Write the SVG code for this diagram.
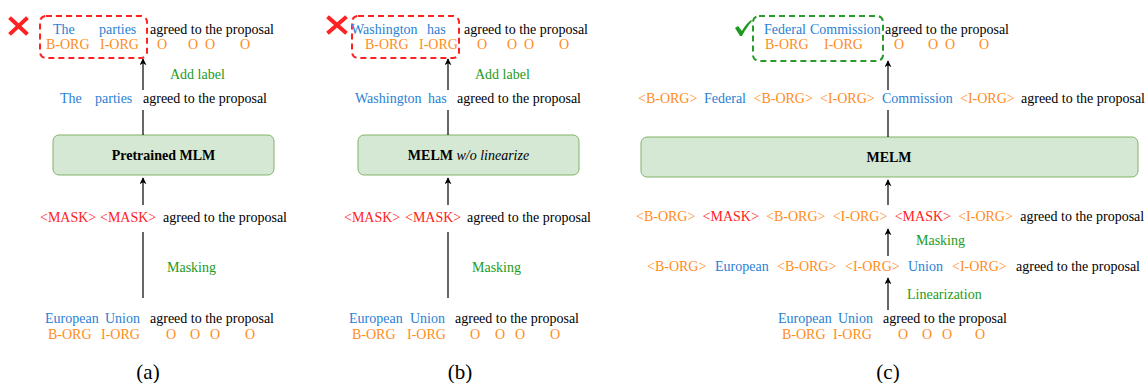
<svg xmlns="http://www.w3.org/2000/svg" width="1148" height="383" viewBox="0 0 1148 383">
  <defs>
    <marker id="arrowhead" viewBox="0 0 10 10" refX="9" refY="5" markerWidth="7" markerHeight="7" orient="auto" markerUnits="userSpaceOnUse">
      <path d="M0,0 L10,5 L0,10 L3,5 Z" fill="#000"/>
    </marker>
    <style>
      text { font-family: "Liberation Serif", "Times New Roman", serif; font-size: 14px; }
      .k { fill: #000; }
      .b { fill: #2a7fd4; }
      .o { fill: #ff8c1a; }
      .r { fill: #ff2222; }
      .g { fill: #1d9a1d; }
      .cap { font-size: 21px; fill: #000; text-anchor: middle; }
      .model { fill: #d5e8d4; stroke: #82b366; stroke-width: 1; }
      .mlabel { font-weight: bold; text-anchor: middle; fill: #000; }
      .wrong { fill: none; stroke: #ff2222; stroke-width: 2; stroke-dasharray: 6 4; }
      .right { fill: none; stroke: #2a9a2a; stroke-width: 2; stroke-dasharray: 6 4; }
      .edge { stroke: #000; stroke-width: 1.2; fill: none; }
      .arrow { marker-end: url(#arrowhead); }
    </style>
  </defs>

  <!-- Panel (a): pretrained masked LM -->
  <g id="a-output">
    <rect class="wrong" x="40" y="16" width="107" height="42" rx="6"/>
    <path d="M11,19 L26,33 M26,19 L11,33" stroke="#ff2222" stroke-width="4" stroke-linecap="square"/>
    <text x="53" y="34" class="b">The</text>
    <text x="99" y="34" class="b">parties</text>
    <text x="150" y="34" class="k">agreed to the proposal</text>
    <text x="46" y="49" class="o">B-ORG</text>
    <text x="100" y="49" class="o">I-ORG</text>
    <text x="157" y="49" class="o">O</text>
    <text x="188" y="49" class="o">O</text>
    <text x="205" y="49" class="o">O</text>
    <text x="240" y="49" class="o">O</text>
  </g>
  <g id="a-add-label"><text x="170" y="79" class="g">Add label</text></g>
  <g id="a-generated">
    <text x="60" y="103" class="b">The</text>
    <text x="95" y="103" class="b">parties</text>
    <text x="143" y="103" class="k">agreed to the proposal</text>
  </g>
  <g id="a-model">
    <rect class="model" x="53" y="135" width="221" height="40" rx="6"/>
    <text x="163.5" y="160" class="mlabel">Pretrained MLM</text>
  </g>
  <g id="a-masked">
    <text x="40" y="222" class="r">&lt;MASK&gt;</text>
    <text x="100" y="222" class="r">&lt;MASK&gt;</text>
    <text x="163" y="222" class="k">agreed to the proposal</text>
  </g>
  <g id="a-masking"><text x="167" y="272" class="g">Masking</text></g>
  <g id="a-input">
    <text x="45" y="323" class="b">European</text>
    <text x="105" y="323" class="b">Union</text>
    <text x="150" y="323" class="k">agreed to the proposal</text>
    <text x="48" y="339" class="o">B-ORG</text>
    <text x="101" y="339" class="o">I-ORG</text>
    <text x="166" y="339" class="o">O</text>
    <text x="190" y="339" class="o">O</text>
    <text x="210" y="339" class="o">O</text>
    <text x="245" y="339" class="o">O</text>
  </g>
  <text x="148" y="379" class="cap">(a)</text>

  <!-- Panel (b): MELM without linearization -->
  <g id="b-output">
    <rect class="wrong" x="352" y="16" width="107" height="42" rx="6"/>
    <path d="M329,18 L345,32 M345,18 L329,32" stroke="#ff2222" stroke-width="4" stroke-linecap="square"/>
    <text x="351" y="34" class="b">Washington</text>
    <text x="427" y="34" class="b">has</text>
    <text x="464" y="34" class="k">agreed to the proposal</text>
    <text x="365" y="49" class="o">B-ORG</text>
    <text x="419" y="49" class="o">I-ORG</text>
    <text x="477" y="49" class="o">O</text>
    <text x="507" y="49" class="o">O</text>
    <text x="524" y="49" class="o">O</text>
    <text x="559" y="49" class="o">O</text>
  </g>
  <g id="b-add-label"><text x="475" y="79" class="g">Add label</text></g>
  <g id="b-generated">
    <text x="355" y="103" class="b">Washington</text>
    <text x="428" y="103" class="b">has</text>
    <text x="457" y="103" class="k">agreed to the proposal</text>
  </g>
  <g id="b-model">
    <rect class="model" x="358" y="135" width="221" height="40" rx="6"/>
    <text x="468.5" y="160" class="mlabel">MELM <tspan font-weight="normal" font-style="italic">w/o linearize</tspan></text>
  </g>
  <g id="b-masked">
    <text x="344" y="222" class="r">&lt;MASK&gt;</text>
    <text x="405" y="222" class="r">&lt;MASK&gt;</text>
    <text x="467" y="222" class="k">agreed to the proposal</text>
  </g>
  <g id="b-masking"><text x="472" y="272" class="g">Masking</text></g>
  <g id="b-input">
    <text x="349" y="323" class="b">European</text>
    <text x="410" y="323" class="b">Union</text>
    <text x="455" y="323" class="k">agreed to the proposal</text>
    <text x="352" y="339" class="o">B-ORG</text>
    <text x="407" y="339" class="o">I-ORG</text>
    <text x="470" y="339" class="o">O</text>
    <text x="495" y="339" class="o">O</text>
    <text x="515" y="339" class="o">O</text>
    <text x="550" y="339" class="o">O</text>
  </g>
  <text x="460" y="379" class="cap">(b)</text>

  <!-- Panel (c): MELM with labeled-sequence linearization -->
  <g id="c-output">
    <rect class="right" x="753" y="16" width="130" height="45" rx="6"/>
    <path d="M735,28 L738,26 L742,31 C744,27 747,23 751,20 L752,21 C748,26 745,30 742,36 L740,36 Z" fill="#1d9a1d"/>
    <text x="764" y="34" class="b">Federal</text>
    <text x="810" y="34" class="b">Commission</text>
    <text x="885" y="34" class="k">agreed to the proposal</text>
    <text x="765" y="49" class="o">B-ORG</text>
    <text x="824" y="49" class="o">I-ORG</text>
    <text x="894" y="49" class="o">O</text>
    <text x="928" y="49" class="o">O</text>
    <text x="945" y="49" class="o">O</text>
    <text x="979" y="49" class="o">O</text>
  </g>
  <g id="c-generated">
    <text x="638" y="103" class="o">&lt;B-ORG&gt;</text>
    <text x="704" y="103" class="b">Federal</text>
    <text x="753.5" y="103" class="o">&lt;B-ORG&gt;</text>
    <text x="820" y="103" class="o">&lt;I-ORG&gt;</text>
    <text x="882" y="103" class="b">Commission</text>
    <text x="960" y="103" class="o">&lt;I-ORG&gt;</text>
    <text x="1021" y="103" class="k">agreed to the proposal</text>
  </g>
  <g id="c-model">
    <rect class="model" x="641" y="137" width="497" height="40" rx="6"/>
    <text x="889" y="162" class="mlabel">MELM</text>
  </g>
  <g id="c-masked">
    <text x="636" y="221" class="o">&lt;B-ORG&gt;</text>
    <text x="702.6" y="221" class="r">&lt;MASK&gt;</text>
    <text x="766.1" y="221" class="o">&lt;B-ORG&gt;</text>
    <text x="832.7" y="221" class="o">&lt;I-ORG&gt;</text>
    <text x="894.7" y="221" class="r">&lt;MASK&gt;</text>
    <text x="958.2" y="221" class="o">&lt;I-ORG&gt;</text>
    <text x="1020.2" y="221" class="k">agreed to the proposal</text>
  </g>
  <g id="c-masking"><text x="916" y="245" class="g">Masking</text></g>
  <g id="c-linearized">
    <text x="647" y="271" class="o">&lt;B-ORG&gt;</text>
    <text x="715" y="271" class="b">European</text>
    <text x="777" y="271" class="o">&lt;B-ORG&gt;</text>
    <text x="845" y="271" class="o">&lt;I-ORG&gt;</text>
    <text x="908" y="271" class="b">Union</text>
    <text x="952" y="271" class="o">&lt;I-ORG&gt;</text>
    <text x="1016" y="271" class="k">agreed to the proposal</text>
  </g>
  <g id="c-linearization"><text x="907" y="299" class="g">Linearization</text></g>
  <g id="c-input">
    <text x="778" y="323" class="b">European</text>
    <text x="838" y="323" class="b">Union</text>
    <text x="883" y="323" class="k">agreed to the proposal</text>
    <text x="782" y="339" class="o">B-ORG</text>
    <text x="833" y="339" class="o">I-ORG</text>
    <text x="898" y="339" class="o">O</text>
    <text x="922" y="339" class="o">O</text>
    <text x="942" y="339" class="o">O</text>
    <text x="975" y="339" class="o">O</text>
  </g>
  <text x="888" y="379" class="cap">(c)</text>

  <!-- Connectors -->
  <g id="connectors">
    <line class="edge arrow" x1="143" y1="90" x2="143" y2="59"/>
    <line class="edge" x1="143" y1="110" x2="143" y2="135"/>
    <line class="edge arrow" x1="143" y1="205" x2="143" y2="178"/>
    <line class="edge" x1="143" y1="232" x2="143" y2="298"/>

    <line class="edge arrow" x1="448" y1="90" x2="448" y2="59"/>
    <line class="edge" x1="448" y1="110" x2="448" y2="135"/>
    <line class="edge arrow" x1="448" y1="205" x2="448" y2="178"/>
    <line class="edge" x1="448" y1="232" x2="448" y2="298"/>

    <line class="edge arrow" x1="888" y1="90" x2="888" y2="61"/>
    <line class="edge" x1="888" y1="110" x2="888" y2="137"/>
    <line class="edge arrow" x1="888" y1="205" x2="888" y2="180"/>
    <line class="edge arrow" x1="888" y1="256" x2="888" y2="229"/>
    <line class="edge arrow" x1="888" y1="310" x2="888" y2="278"/>
  </g>
</svg>
